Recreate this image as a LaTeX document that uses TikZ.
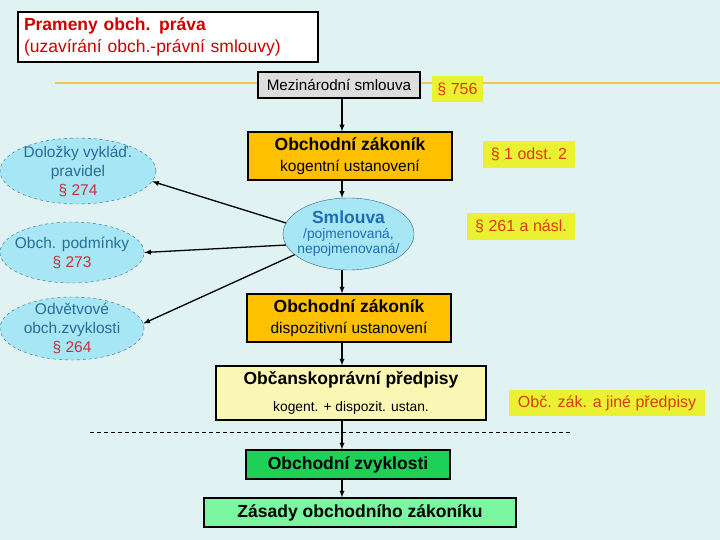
\documentclass[tikz,border=0pt]{standalone}
\usepackage{fontspec}
\setmainfont{Liberation Sans}
\usetikzlibrary{arrows,shapes.geometric,calc}

\definecolor{bg}{RGB}{224,242,242}
\definecolor{titlered}{RGB}{204,0,0}
\definecolor{orbox}{RGB}{255,192,0}
\definecolor{mezgray}{RGB}{221,221,221}
\definecolor{parbg}{RGB}{234,240,50}
\definecolor{partxt}{RGB}{222,60,10}
\definecolor{obcbg}{RGB}{250,246,180}
\definecolor{zvykgreen}{RGB}{30,208,88}
\definecolor{zasgreen}{RGB}{122,245,160}
\definecolor{elfill}{RGB}{166,230,245}
\definecolor{eldraw}{RGB}{60,100,135}
\definecolor{eltxt}{RGB}{40,110,150}
\definecolor{smlblue}{RGB}{30,110,180}
\definecolor{secred}{RGB}{200,50,60}
\definecolor{axline}{RGB}{238,200,90}

\tikzset{
  box/.style={draw=black,line width=1.1pt,rectangle,inner sep=0pt,align=center},
  par/.style={fill=parbg,inner sep=0pt,text=partxt,font=\fontsize{16}{18}\selectfont},
  side/.style={ellipse,draw=eldraw,dashed,fill=elfill,inner xsep=-18pt,inner ysep=-9pt,
    align=center,text=eltxt,font=\fontsize{15.5}{19}\selectfont},
}

\begin{document}
\begin{tikzpicture}[x=1pt,y=-1pt]
  \useasboundingbox[fill=bg] (0,0) rectangle (720,540);
  % horizontal line through the international level
  \draw[axline,line width=2pt] (55,83) -- (720,83);
  \draw[dashed,dash pattern=on 4pt off 3pt,line width=0.8pt] (90,432) -- (572,432);

  \node[box,fill=white,minimum width=300,minimum height=50,text width=288,align=left,
    text=titlered,font=\fontsize{17.5}{22}\selectfont] (tit) at (168,37)
    {\textbf{Prameny obch. práva}\\(uzavírání obch.-právní smlouvy)};

  \node[box,fill=mezgray,minimum width=162,minimum height=26,
    font=\fontsize{15.2}{17}\selectfont] (mez) at (339,85) {Mezinárodní smlouva};
  \node[par,minimum width=51,minimum height=26] (p756) at (457.5,89) {§ 756};

  \node[box,fill=orbox,minimum width=204,minimum height=48,
    font=\fontsize{15.5}{21}\selectfont] (ozk) at (350,156)
    {{\fontsize{17.5}{21}\selectfont\bfseries Obchodní zákoník}\\kogentní ustanovení};
  \node[par,minimum width=92,minimum height=27] (p1) at (529,154.5) {§ 1 odst. 2};

  \node[ellipse,draw=eldraw,fill=elfill,minimum width=131,minimum height=72,
    inner xsep=-12pt,inner ysep=-6pt,align=center,text=smlblue,
    font=\fontsize{13.8}{15}\selectfont] (sml) at (348.5,234)
    {{\fontsize{17.5}{19}\selectfont\bfseries Smlouva}\\/pojmenovaná,\\nepojmenovaná/};
  \node[par,minimum width=108,minimum height=27] (p261) at (521,226.5) {§ 261 a násl.};

  \node[box,fill=orbox,minimum width=204,minimum height=48,
    font=\fontsize{15.5}{21}\selectfont] (ozd) at (349,318)
    {{\fontsize{17.5}{21}\selectfont\bfseries Obchodní zákoník}\\dispozitivní ustanovení};

  \node[box,fill=obcbg,minimum width=270,minimum height=54,
    font=\fontsize{13.8}{27}\selectfont] (obc) at (351,393)
    {{\fontsize{17.5}{27}\selectfont\bfseries Občanskoprávní předpisy}\\kogent. + dispozit. ustan.};
  \node[par,minimum width=196,minimum height=26] (pobc) at (607,403) {Obč. zák. a jiné předpisy};

  \node[box,fill=zvykgreen,minimum width=204,minimum height=29,
    font=\fontsize{17.5}{19}\selectfont\bfseries] (zvyk) at (348,464.5) {Obchodní zvyklosti};
  \node[box,fill=zasgreen,minimum width=312,minimum height=29,
    font=\fontsize{17.5}{19}\selectfont\bfseries] (zas) at (360,512.5) {Zásady obchodního zákoníku};

  \node[side,minimum width=156,minimum height=66] (dol) at (78,171)
    {Doložky vykláď.\\pravidel\\\textcolor{secred}{§ 274}};
  \node[side,minimum width=144,minimum height=61] (pod) at (72,252.5)
    {Obch. podmínky\\\textcolor{secred}{§ 273}};
  \node[side,minimum width=144,minimum height=63] (odv) at (72,328.5)
    {Odvětvové\\obch.zvyklosti\\\textcolor{secred}{§ 264}};

  \coordinate (ax) at (342,0);
  \path[->,>=latex,line width=1.3pt]
    (mez.south -| ax) edge (ozk.north -| ax)
    (ozk.south -| ax) edge (sml.north -| ax)
    (sml.south -| ax) edge (ozd.north -| ax)
    (ozd.south -| ax) edge (obc.north -| ax)
    (obc.south -| ax) edge (zvyk.north -| ax)
    (zvyk.south -| ax) edge (zas.north -| ax);
  \path[->,>=latex,line width=1.3pt]
    (sml.170) edge (dol.-8)
    (sml.190) edge (pod.east)
    (sml.201) edge (odv.4);
\end{tikzpicture}
\end{document}
